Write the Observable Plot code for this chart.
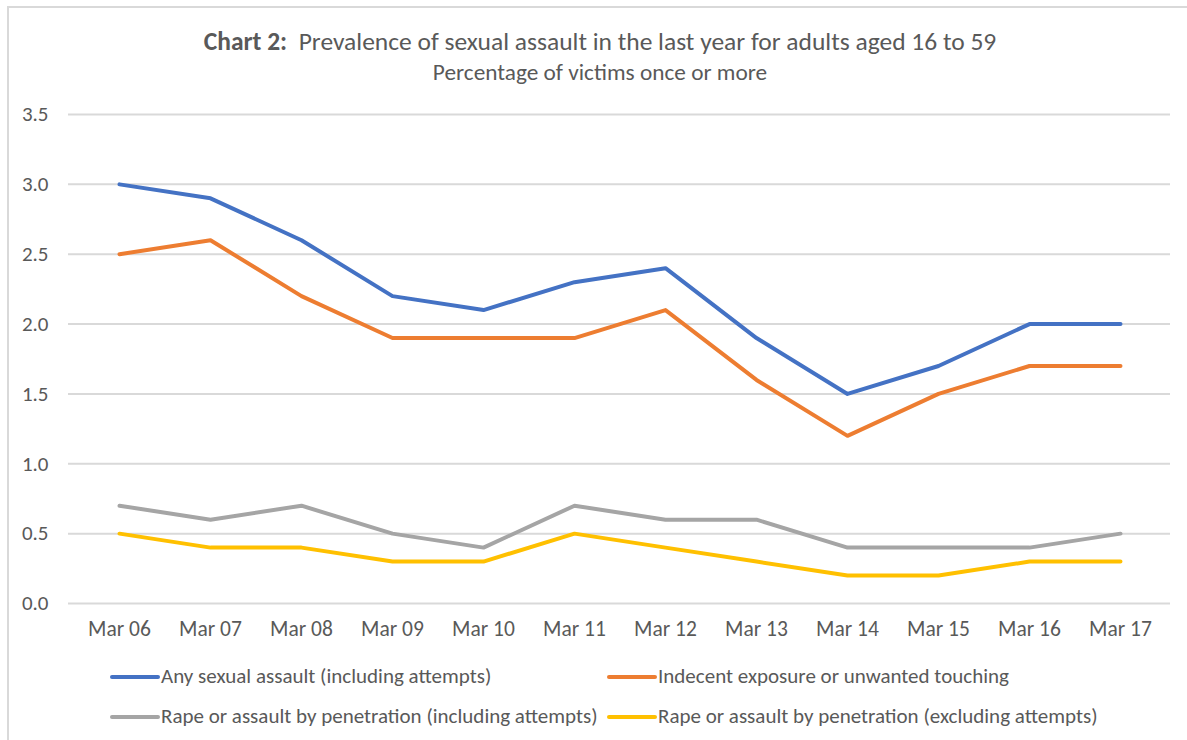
<!DOCTYPE html>
<html>
<head>
<meta charset="utf-8">
<script src="https://cdn.jsdelivr.net/npm/d3@7"></script>
<script src="https://cdn.jsdelivr.net/npm/@observablehq/plot@0.6"></script>
<style>
  html, body { margin: 0; padding: 0; background: #fff; }
  body { width: 1187px; height: 740px; position: relative; overflow: hidden;
         font-family: Carlito, "Liberation Sans Narrow", "Noto Sans", sans-serif; color: #595959; }
  .frame { position: absolute; left: 7px; top: 6px; width: 1190px; height: 740px;
           border-left: 2px solid #d9d9d9; border-top: 2px solid #d9d9d9; }
  .title { position: absolute; left: 10px; width: 1180px; top: 27px; text-align: center; font-size: 25.5px; line-height: 30px; }
  .subtitle { position: absolute; left: 10px; width: 1180px; top: 59px; text-align: center; font-size: 23.3px; line-height: 26px; }
  #chart { position: absolute; left: 0; top: 90px; }
  .leg { position: absolute; font-size: 21px; white-space: nowrap; line-height: 24px; }
  .leg .sw { display: inline-block; width: 50px; height: 4px; vertical-align: middle; margin-right: 1px; border-radius: 2px; position: relative; top: -1px; }
</style>
</head>
<body>
<div class="frame"></div>
<div class="title"><b>Chart 2:</b>&nbsp; Prevalence of sexual assault in the last year for adults aged 16 to 59</div>
<div class="subtitle">Percentage of victims once or more</div>
<div id="chart"></div>
<div id="legend"></div>
<script>
const categories = ["Mar 06","Mar 07","Mar 08","Mar 09","Mar 10","Mar 11","Mar 12","Mar 13","Mar 14","Mar 15","Mar 16","Mar 17"];
const seriesNames = [
  "Any sexual assault (including attempts)",
  "Indecent exposure or unwanted touching",
  "Rape or assault by penetration (including attempts)",
  "Rape or assault by penetration (excluding attempts)"
];
const anyAssault   = [3.0, 2.9, 2.6, 2.2, 2.1, 2.3, 2.4, 1.9, 1.5, 1.7, 2.0, 2.0];
const indecent     = [2.5, 2.6, 2.2, 1.9, 1.9, 1.9, 2.1, 1.6, 1.2, 1.5, 1.7, 1.7];
const rapeIncl     = [0.7, 0.6, 0.7, 0.5, 0.4, 0.7, 0.6, 0.6, 0.4, 0.4, 0.4, 0.5];
const rapeExcl     = [0.5, 0.4, 0.4, 0.3, 0.3, 0.5, 0.4, 0.3, 0.2, 0.2, 0.3, 0.3];
const colors = ["#4472C4", "#ED7D31", "#A5A5A5", "#FFC000"];
const yTicks = [0, 0.5, 1.0, 1.5, 2.0, 2.5, 3.0, 3.5];

const seriesValues = [anyAssault, indecent, rapeIncl, rapeExcl];
const data = [];
seriesValues.forEach((vals, s) => vals.forEach((v, i) => data.push({cat: categories[i], series: seriesNames[s], value: v})));

const chart = Plot.plot({
  width: 1187,
  height: 558,
  marginLeft: 68,
  marginRight: 17,
  marginTop: 24,
  marginBottom: 45,
  style: {fontFamily: 'Carlito, "Liberation Sans Narrow", "Noto Sans", sans-serif', fontSize: "16px", color: "#595959", background: "transparent"},
  x: {type: "point", domain: categories, padding: 0.5, label: null},
  y: {domain: [0, 3.5], ticks: yTicks, label: null},
  color: {domain: seriesNames, range: colors},
  marks: [
    Plot.gridY(yTicks, {stroke: "#d9d9d9", strokeOpacity: 1, strokeWidth: 2}),
    Plot.axisY(yTicks, {tickSize: 0, tickPadding: 20, tickFormat: d3.format(".1f"), fontSize: 21, fill: "#595959", label: null}),
    Plot.axisX({tickSize: 0, tickPadding: 17, fontSize: 21.5, fill: "#595959", label: null}),
    Plot.line(data, {x: "cat", y: "value", z: "series", stroke: "series", strokeWidth: 4, strokeLinejoin: "round", strokeLinecap: "round"})
  ]
});
document.getElementById("chart").appendChild(chart);

const legendPos = [[110, 664], [607, 664], [110, 704], [607, 704]];
const legend = document.getElementById("legend");
seriesNames.forEach((name, i) => {
  const d = document.createElement("div");
  d.className = "leg";
  d.style.left = legendPos[i][0] + "px";
  d.style.top = legendPos[i][1] + "px";
  const sw = document.createElement("span");
  sw.className = "sw";
  sw.style.background = colors[i];
  d.appendChild(sw);
  d.appendChild(document.createTextNode(name));
  legend.appendChild(d);
});
</script>
</body>
</html>
